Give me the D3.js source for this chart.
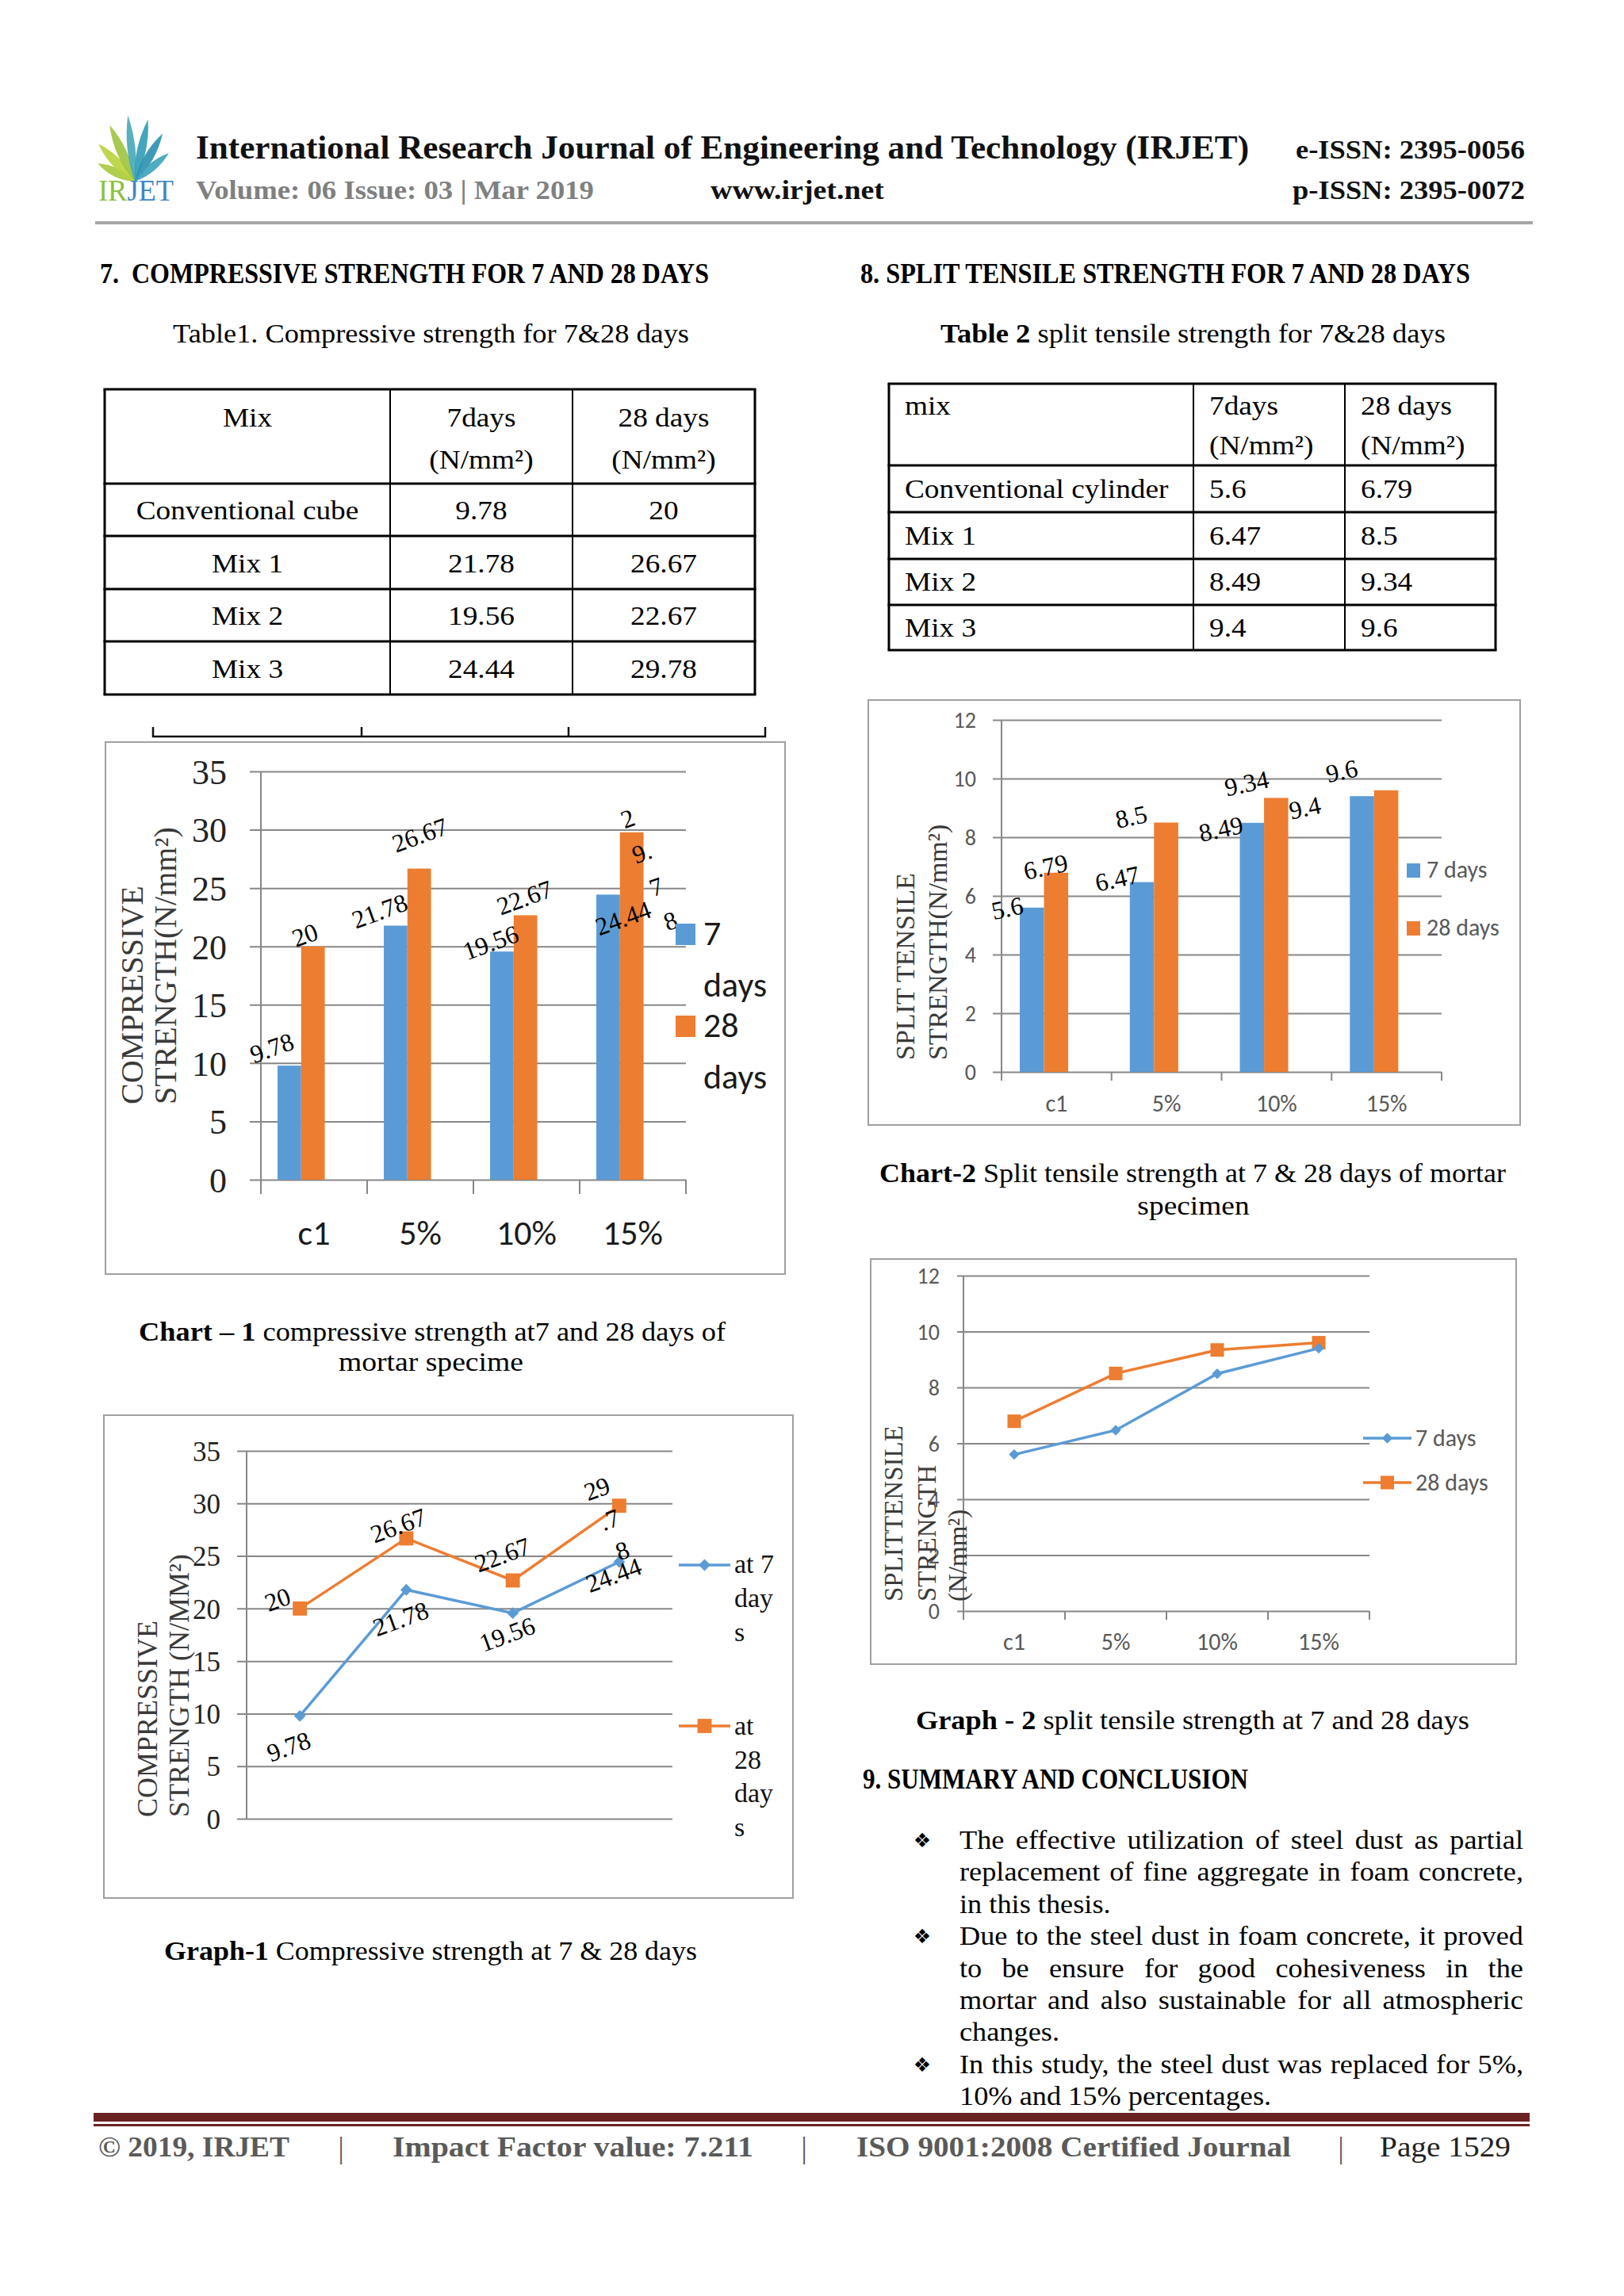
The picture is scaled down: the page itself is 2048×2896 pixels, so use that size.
<!DOCTYPE html>
<html>
<head>
<meta charset="utf-8">
<title>IRJET page 1529</title>
<script src="https://cdn.jsdelivr.net/npm/d3@7/dist/d3.min.js"></script>
<style>
html,body{margin:0;padding:0;background:#fff;}
svg{display:block;}
text{white-space:pre;}
</style>
</head>
<body>
<svg id="page" width="2048" height="2896" viewBox="0 0 2048 2896"></svg>
<script>
// ---------------- DATA ----------------
const categories = ["c1", "5%", "10%", "15%"];
const compressive7 = [9.78, 21.78, 19.56, 24.44];
const compressive28 = [20, 26.67, 22.67, 29.78];
const split7 = [5.6, 6.47, 8.49, 9.4];
const split28 = [6.79, 8.5, 9.34, 9.6];
const table1Mixes = ["Conventional cube", "Mix 1", "Mix 2", "Mix 3"];
const table2Mixes = ["Conventional cylinder", "Mix 1", "Mix 2", "Mix 3"];
const compressiveTicks = [0, 5, 10, 15, 20, 25, 30, 35];
const splitTicks = [0, 2, 4, 6, 8, 10, 12];
const chart1Legend = [["7", "days"], ["28", "days"]];
const chart2Legend = ["7 days", "28 days"];
const graph1Legend = [["at 7", "day", "s"], ["at", "28", "day", "s"]];
const graph2Legend = ["7 days", "28 days"];
const summaryLines = [
  ["The effective utilization of steel dust as partial", true, true],
  ["replacement of fine aggregate in foam concrete,", false, true],
  ["in this thesis.", false, false],
  ["Due to the steel dust in foam concrete, it proved", true, true],
  ["to be ensure for good cohesiveness in the", false, true],
  ["mortar and also sustainable for all atmospheric", false, true],
  ["changes.", false, false],
  ["In this study, the steel dust was replaced for 5%,", true, true],
  ["10% and 15% percentages.", false, false]
];

// ---------------- STYLE ----------------
const SERIF = "'Liberation Serif','Times New Roman',serif";
const SANS = "Carlito,Lato,'Liberation Sans',sans-serif";
const BLUE = "#5b9bd5", ORANGE = "#ed7d31", GRID = "#878787", FRAME = "#a0a0a0";
const BODY_STRETCH = 1.1, TABLE_STRETCH = 1.13;

const svg = d3.select("#page");
svg.append("rect").attr("width", 2048).attr("height", 2896).attr("fill", "#fff");

function fit(t, o) {
  if (o.width) t.attr("textLength", o.width).attr("lengthAdjust", "spacingAndGlyphs");
  else if (o.stretch) {
    const n = t.node().getComputedTextLength();
    t.attr("textLength", n * o.stretch).attr("lengthAdjust", "spacingAndGlyphs");
  }
  return t;
}
function addText(p, s, x, y, o = {}) {
  const t = p.append("text").attr("x", x).attr("y", y)
    .attr("font-family", o.family || SERIF)
    .attr("font-size", o.size || 33)
    .attr("font-weight", o.weight || "normal")
    .attr("fill", o.fill || "#000")
    .attr("text-anchor", o.anchor || "start")
    .text(s);
  return fit(t, o);
}
function addRich(p, parts, x, y, o = {}) {
  const t = p.append("text").attr("x", x).attr("y", y)
    .attr("font-family", o.family || SERIF)
    .attr("font-size", o.size || 33)
    .attr("fill", o.fill || "#000")
    .attr("text-anchor", o.anchor || "start");
  parts.forEach(([s, w]) => t.append("tspan").attr("font-weight", w || "normal").text(s));
  return fit(t, o);
}

// ---------------- HEADER ----------------
const logo = svg.append("g");
const leaves = [
  [-64, 52, 11, "#a9c93c"], [-44, 66, 12, "#b8d33a"], [-24, 78, 12, "#9cc43f"],
  [-6, 84, 10, "#45a9b8"], [12, 80, 11, "#2f9cb6"], [30, 70, 11, "#2a8fb0"], [50, 56, 10, "#3aa3b9"]
];
const lb = [170, 229];
leaves.forEach(([a, L, w, col]) => {
  const r = a * Math.PI / 180;
  const tx = lb[0] + L * Math.sin(r), ty = lb[1] - L * Math.cos(r);
  const mx = lb[0] + 0.5 * L * Math.sin(r), my = lb[1] - 0.5 * L * Math.cos(r);
  const px = Math.cos(r) * w, py = Math.sin(r) * w;
  logo.append("path")
    .attr("d", `M${lb[0]},${lb[1]} Q${mx - px},${my - py} ${tx},${ty} Q${mx + px},${my + py} ${lb[0]},${lb[1]} Z`)
    .attr("fill", col).attr("opacity", 0.9);
});
addRich(svg, [["IR", "normal"], ["JET", "normal"]], 124, 253, { size: 37, width: 95 })
  .call(t => { t.select("tspan:nth-child(1)").attr("fill", "#8cbf3f"); t.select("tspan:nth-child(2)").attr("fill", "#3c86c6"); });

addText(svg, "International Research Journal of Engineering and Technology (IRJET)", 247, 200, { size: 42, weight: "bold", width: 1328, fill: "#111" });
addText(svg, "e-ISSN: 2395-0056", 1634, 200, { size: 33, weight: "bold", width: 289, fill: "#111" });
addText(svg, "Volume: 06 Issue: 03 | Mar 2019", 247, 251, { size: 33, weight: "bold", width: 502, fill: "#808080" });
addText(svg, "www.irjet.net", 896, 251, { size: 33, weight: "bold", width: 219, fill: "#111" });
addText(svg, "p-ISSN: 2395-0072", 1630, 251, { size: 33, weight: "bold", width: 293, fill: "#111" });
svg.append("rect").attr("x", 120).attr("y", 279).attr("width", 1813).attr("height", 4).attr("fill", "#a6a6a6");

// ---------------- SECTION HEADINGS ----------------
addText(svg, "7.  COMPRESSIVE STRENGTH FOR 7 AND 28 DAYS", 126, 357, { size: 35, weight: "bold", width: 768 });
addText(svg, "8. SPLIT TENSILE STRENGTH FOR 7 AND 28 DAYS", 1085, 357, { size: 35, weight: "bold", width: 769 });
addText(svg, "Table1. Compressive strength for 7&28 days", 218, 432, { size: 33, width: 651 });
addRich(svg, [["Table 2", "bold"], [" split tensile strength for 7&28 days", "normal"]], 1186, 432, { size: 33, width: 637 });

// ---------------- TABLES ----------------
function drawTable(cols, rows, headers, mixes, v7, v28, align, hdrBase, rowShift) {
  const g = svg.append("g");
  rows.forEach((y, i) => g.append("line").attr("x1", cols[0] - 1.5).attr("x2", cols[cols.length - 1] + 1.5)
    .attr("y1", y).attr("y2", y).attr("stroke", "#000").attr("stroke-width", 3));
  cols.forEach((x, i) => g.append("line").attr("x1", x).attr("x2", x).attr("y1", rows[0]).attr("y2", rows[rows.length - 1])
    .attr("stroke", "#000").attr("stroke-width", (i === 0 || i === cols.length - 1) ? 3 : 2));
  const cx = (i) => align === "middle" ? (cols[i] + cols[i + 1]) / 2 : cols[i] + 20;
  headers.forEach((lines, c) => lines.forEach((s, k) =>
    addText(g, s, cx(c), hdrBase[k], { size: 33, anchor: align, stretch: TABLE_STRETCH })));
  mixes.forEach((m, r) => {
    const yb = (rows[r + 1] + rows[r + 2]) / 2 + rowShift;
    addText(g, m, cx(0), yb, { size: 33, anchor: align, stretch: TABLE_STRETCH });
    addText(g, String(v7[r]), cx(1), yb, { size: 33, anchor: align, stretch: TABLE_STRETCH });
    addText(g, String(v28[r]), cx(2), yb, { size: 33, anchor: align, stretch: TABLE_STRETCH });
  });
}
drawTable([132, 492, 722, 952], [491, 610, 676, 743, 809, 876],
  [["Mix"], ["7days", "(N/mm²)"], ["28 days", "(N/mm²)"]], table1Mixes, compressive7, compressive28, "middle", [538, 591], 12);
drawTable([1121, 1505, 1696, 1886], [484, 587, 646, 705, 763, 820],
  [["mix"], ["7days", "(N/mm²)"], ["28 days", "(N/mm²)"]], table2Mixes, split7, split28, "start", [523, 573], 11);

// ---------------- CHART HELPERS ----------------
function frame(x0, y0, x1, y1) {
  svg.append("rect").attr("x", x0).attr("y", y0).attr("width", x1 - x0).attr("height", y1 - y0)
    .attr("fill", "none").attr("stroke", FRAME).attr("stroke-width", 2);
}
function axes(c) {
  const g = svg.append("g");
  const x = d3.scaleBand().domain(categories).range([c.x0, c.x1]);
  const y = d3.scaleLinear().domain([0, c.max]).range([c.yBase, c.yTop]);
  const ya = g.append("g").attr("transform", `translate(${c.x0},0)`)
    .call(d3.axisLeft(y).tickValues(c.ticks).tickSize(-(c.x1 - c.x0)).tickPadding(c.tickPad));
  ya.attr("font-family", null).attr("font-size", null);
  ya.select(".domain").remove();
  ya.selectAll(".tick line").attr("x1", -c.gridOut).attr("stroke", GRID).attr("stroke-width", 2);
  ya.selectAll(".tick text").attr("font-family", c.tickFont).attr("font-size", c.tickSize)
    .attr("fill", c.tickFill).attr("dy", "0.35em");
  g.append("line").attr("x1", c.x0).attr("x2", c.x0).attr("y1", c.yTop).attr("y2", c.yBase + (c.catTick || 0))
    .attr("stroke", GRID).attr("stroke-width", 2);
  if (c.catTick) {
    g.selectAll(".btick").data(categories.map(d => x(d)).concat([c.x1])).join("line")
      .attr("x1", d => d).attr("x2", d => d).attr("y1", c.yBase).attr("y2", c.yBase + c.catTick)
      .attr("stroke", GRID).attr("stroke-width", 2);
  }
  if (c.catLabelY) {
    const xa = g.append("g").attr("transform", `translate(0,${c.yBase})`).call(d3.axisBottom(x).tickSize(0));
    xa.attr("font-family", null).attr("font-size", null);
    xa.select(".domain").remove();
    xa.selectAll(".tick text").attr("y", c.catLabelY).attr("dy", 0)
      .attr("font-family", SANS).attr("font-size", c.catSize).attr("fill", c.catFill);
  }
  // rotated y title
  c.title.forEach(([s, bx], i) => {
    g.append("text").attr("transform", `translate(${bx},${c.titleStart}) rotate(-90)`)
      .attr("font-family", SERIF).attr("font-size", c.titleSize).attr("fill", "#3a3a3a").text(s);
  });
  return { g, x, y, bw: x.bandwidth() };
}
function rotLabel(g, s, cx, cy, angle, size, cuts, step) {
  const parts = [];
  if (cuts) {
    let prev = 0;
    cuts.forEach(c => { parts.push(s.slice(prev, c)); prev = c; });
    parts.push(s.slice(prev));
  } else parts.push(s);
  parts.filter(p => p.length).forEach((p, j) => {
    const px = cx + j * (step ? step[0] : 0), py = cy + j * (step ? step[1] : 0);
    g.append("text").attr("x", px).attr("y", py).attr("text-anchor", "middle").attr("dy", "0.33em")
      .attr("transform", `rotate(${angle},${px},${py})`)
      .attr("font-family", SERIF).attr("font-size", size).attr("fill", "#000").text(p);
  });
}

// ---------------- CHART 1 (bars, compressive) ----------------
svg.append("path").attr("d", "M193,917 V929 H965 V917 M456,929 V917 M717,929 V917")
  .attr("fill", "none").attr("stroke", "#111").attr("stroke-width", 2.5);
frame(133, 936, 990, 1607);
{
  const c = axes({ x0: 329, x1: 865, yBase: 1488, yTop: 973, max: 35, ticks: compressiveTicks, tickPad: 43, gridOut: 14,
    tickFont: SERIF, tickSize: 44, tickFill: "#222", catTick: 18, catLabelY: 82, catSize: 44, catFill: "#1a1a1a",
    title: [["COMPRESSIVE", 180], ["STRENGTH(N/mm²)", 222]], titleStart: 1393, titleSize: 40 });
  const off = [0.157, 0.379], bwF = 0.222;
  const series = [compressive7, compressive28], colors = [BLUE, ORANGE];
  series.forEach((vals, k) => c.g.selectAll(null).data(vals).join("rect")
    .attr("x", (d, i) => c.x(categories[i]) + off[k] * c.bw).attr("width", bwF * c.bw)
    .attr("y", d => c.y(d)).attr("height", d => c.y(0) - c.y(d)).attr("fill", colors[k]));
  const nudge = [[[-22, -22], [-20, -18], [-14, -11], [19, 30]], [[-10, -14], [1, -42], [-1, -22], [-5, -17]]];
  series.forEach((vals, k) => vals.forEach((v, i) => {
    const cx = c.x(categories[i]) + (off[k] + bwF / 2) * c.bw + nudge[k][i][0];
    const cy = c.y(v) + nudge[k][i][1];
    const wrap = (k === 1 && i === 3);
    rotLabel(c.g, String(v), cx, cy, -20, 32, wrap ? [1, 3, 4] : null, [18, 43]);
  }));
  // legend
  [BLUE, ORANGE].forEach((col, k) => {
    const top = [1165, 1281][k];
    c.g.append("rect").attr("x", 852).attr("y", top).attr("width", 25).attr("height", 27).attr("fill", col);
    chart1Legend[k].forEach((s, j) => addText(c.g, s, 887, top + 27 + j * 65, { family: SANS, size: 44, fill: "#1a1a1a" }));
  });
}
addRich(svg, [["Chart – 1", "bold"], [" compressive strength at7 and 28 days of", "normal"]], 175, 1691, { size: 34, width: 740 });
addText(svg, "mortar specime", 427, 1729, { size: 34, width: 233 });

// ---------------- CHART 2 (bars, split tensile) ----------------
frame(1095, 883, 1917, 1419);
{
  const c = axes({ x0: 1263, x1: 1818, yBase: 1352, yTop: 908, max: 12, ticks: splitTicks, tickPad: 32, gridOut: 11,
    tickFont: SANS, tickSize: 28, tickFill: "#595959", catTick: 11, catLabelY: 50, catSize: 30, catFill: "#595959",
    title: [["SPLIT TENSILE", 1153], ["STRENGTH(N/mm²)", 1194]], titleStart: 1337, titleSize: 34 });
  const off = [0.166, 0.386], bwF = 0.22;
  const series = [split7, split28], colors = [BLUE, ORANGE];
  series.forEach((vals, k) => c.g.selectAll(null).data(vals).join("rect")
    .attr("x", (d, i) => c.x(categories[i]) + off[k] * c.bw).attr("width", bwF * c.bw)
    .attr("y", d => c.y(d)).attr("height", d => c.y(0) - c.y(d)).attr("fill", colors[k]));
  const nudge = [[[-31, 1], [-31, -4], [-39, 8], [-72, 15]], [[-13, -7], [-44, -7], [-37, -18], [-56, -24]]];
  series.forEach((vals, k) => vals.forEach((v, i) => {
    const cx = c.x(categories[i]) + (off[k] + bwF / 2) * c.bw + nudge[k][i][0];
    rotLabel(c.g, String(v), cx, c.y(v) + nudge[k][i][1], -12, 32);
  }));
  [BLUE, ORANGE].forEach((col, k) => {
    const top = [1089, 1162][k];
    c.g.append("rect").attr("x", 1774).attr("y", top).attr("width", 17).attr("height", 18).attr("fill", col);
    addText(c.g, chart2Legend[k], 1799, top + 18, { family: SANS, size: 30, fill: "#595959" });
  });
}
addRich(svg, [["Chart-2", "bold"], [" Split tensile strength at 7 & 28 days of mortar", "normal"]], 1109, 1491, { size: 34, width: 790 });
addText(svg, "specimen", 1505, 1532, { size: 34, anchor: "middle", stretch: BODY_STRETCH });

// ---------------- line chart helper ----------------
function lineSeries(c, vals, color, marker, msize, lw) {
  const pts = vals.map((v, i) => [c.x(categories[i]) + c.bw / 2, c.y(v)]);
  c.g.append("path").attr("d", d3.line()(pts)).attr("fill", "none").attr("stroke", color).attr("stroke-width", lw);
  c.g.selectAll(null).data(pts).join("path")
    .attr("d", d3.symbol(d3.symbolSquare, msize)())
    .attr("transform", d => `translate(${d[0]},${d[1]})${marker === "diamond" ? " rotate(45)" : ""}`)
    .attr("fill", color);
  return pts;
}
function legendLine(g, x0, x1, y, color, marker, msize, lw) {
  g.append("line").attr("x1", x0).attr("x2", x1).attr("y1", y).attr("y2", y).attr("stroke", color).attr("stroke-width", lw);
  g.append("path").attr("d", d3.symbol(d3.symbolSquare, msize)())
    .attr("transform", `translate(${(x0 + x1) / 2},${y})${marker === "diamond" ? " rotate(45)" : ""}`).attr("fill", color);
}

// ---------------- GRAPH 1 (lines, compressive) ----------------
frame(131, 1785, 1000, 2394);
{
  const c = axes({ x0: 311, x1: 848, yBase: 2294, yTop: 1830, max: 35, ticks: compressiveTicks, tickPad: 33, gridOut: 12,
    tickFont: SERIF, tickSize: 35, tickFill: "#222", catTick: 0, catLabelY: 0,
    title: [["COMPRESSIVE", 198], ["STRENGTH (N/MM²)", 238]], titleStart: 2292, titleSize: 36 });
  const p28 = lineSeries(c, compressive28, ORANGE, "square", 320, 3.5);
  const p7 = lineSeries(c, compressive7, BLUE, "diamond", 110, 3.5);
  const n7 = [[-14, 39], [-7, 37], [-7, 27], [-7, 17]];
  const n28 = [[-28, -11], [-10, -16], [-13, -32], [-28, -21]];
  compressive7.forEach((v, i) => rotLabel(c.g, String(v), p7[i][0] + n7[i][0], p7[i][1] + n7[i][1], -20, 32));
  compressive28.forEach((v, i) => rotLabel(c.g, String(v), p28[i][0] + n28[i][0], p28[i][1] + n28[i][1], -20, 32,
    i === 3 ? [2, 4] : null, [16, 39]));
  legendLine(c.g, 856, 921, 1974, BLUE, "diamond", 110, 3.5);
  legendLine(c.g, 856, 921, 2177, ORANGE, "square", 320, 3.5);
  graph1Legend[0].forEach((s, j) => addText(c.g, s, 926, 1984 + j * 43, { size: 34, fill: "#111" }));
  graph1Legend[1].forEach((s, j) => addText(c.g, s, 926, 2188 + j * 42.5, { size: 34, fill: "#111" }));
}
addRich(svg, [["Graph-1", "bold"], [" Compressive strength at 7 & 28 days", "normal"]], 207, 2472, { size: 34, width: 672 });

// ---------------- GRAPH 2 (lines, split tensile) ----------------
frame(1098, 1588, 1912, 2099);
{
  const c = axes({ x0: 1215, x1: 1727, yBase: 2032, yTop: 1609, max: 12, ticks: splitTicks, tickPad: 30, gridOut: 8,
    tickFont: SANS, tickSize: 28, tickFill: "#595959", catTick: 11, catLabelY: 49, catSize: 30, catFill: "#595959",
    title: [["SPLITTENSILE", 1138], ["STRENGTH", 1180], ["(N/mm²)", 1219]], titleStart: 2020, titleSize: 33 });
  lineSeries(c, split28, ORANGE, "square", 290, 3.5);
  lineSeries(c, split7, BLUE, "diamond", 90, 3.5);
  legendLine(c.g, 1719, 1780, 1814, BLUE, "diamond", 90, 3.5);
  legendLine(c.g, 1719, 1780, 1870, ORANGE, "square", 290, 3.5);
  addText(c.g, graph2Legend[0], 1785, 1824, { family: SANS, size: 30, fill: "#595959" });
  addText(c.g, graph2Legend[1], 1785, 1880, { family: SANS, size: 30, fill: "#595959" });
}
addRich(svg, [["Graph - 2", "bold"], [" split tensile strength at 7 and 28 days", "normal"]], 1155, 2181, { size: 34, width: 698 });

// ---------------- SUMMARY ----------------
addText(svg, "9. SUMMARY AND CONCLUSION", 1088, 2256, { size: 35, weight: "bold", width: 486 });
{
  const g = svg.append("g");
  const left = 1210, right = 1921;
  summaryLines.forEach(([line, bullet, justify], i) => {
    const yb = 2332 + i * 40.4;
    if (bullet) g.append("text").attr("x", 1163).attr("y", yb - 2).attr("text-anchor", "middle")
      .attr("font-family", "'DejaVu Sans',sans-serif").attr("font-size", 25).attr("fill", "#000").text("❖");
    const words = line.split(" ");
    const els = words.map(w => addText(g, w, 0, yb, { size: 33, stretch: BODY_STRETCH }));
    const widths = els.map(e => +e.attr("textLength"));
    const total = d3.sum(widths);
    const gap = justify ? (right - left - total) / (words.length - 1) : 8.25 * BODY_STRETCH;
    let xx = left;
    els.forEach((e, k) => { e.attr("x", xx); xx += widths[k] + gap; });
  });
}

// ---------------- FOOTER ----------------
svg.append("rect").attr("x", 118).attr("y", 2665).attr("width", 1811).attr("height", 11).attr("fill", "#6a2323");
svg.append("rect").attr("x", 118).attr("y", 2679).attr("width", 1811).attr("height", 3).attr("fill", "#6a2323");
addText(svg, "© 2019, IRJET", 124, 2720, { size: 35, weight: "bold", width: 241, fill: "#5a5a5a" });
addText(svg, "Impact Factor value: 7.211", 495, 2720, { size: 35, weight: "bold", width: 455, fill: "#5a5a5a" });
addText(svg, "ISO 9001:2008 Certified Journal", 1080, 2720, { size: 35, weight: "bold", width: 548, fill: "#5a5a5a" });
addText(svg, "Page 1529", 1740, 2720, { size: 35, width: 165, fill: "#222" });
[430, 1014, 1691].forEach(x => addText(svg, "|", x, 2722, { size: 38, fill: "#5a5a5a", anchor: "middle" }));
</script>
</body>
</html>
